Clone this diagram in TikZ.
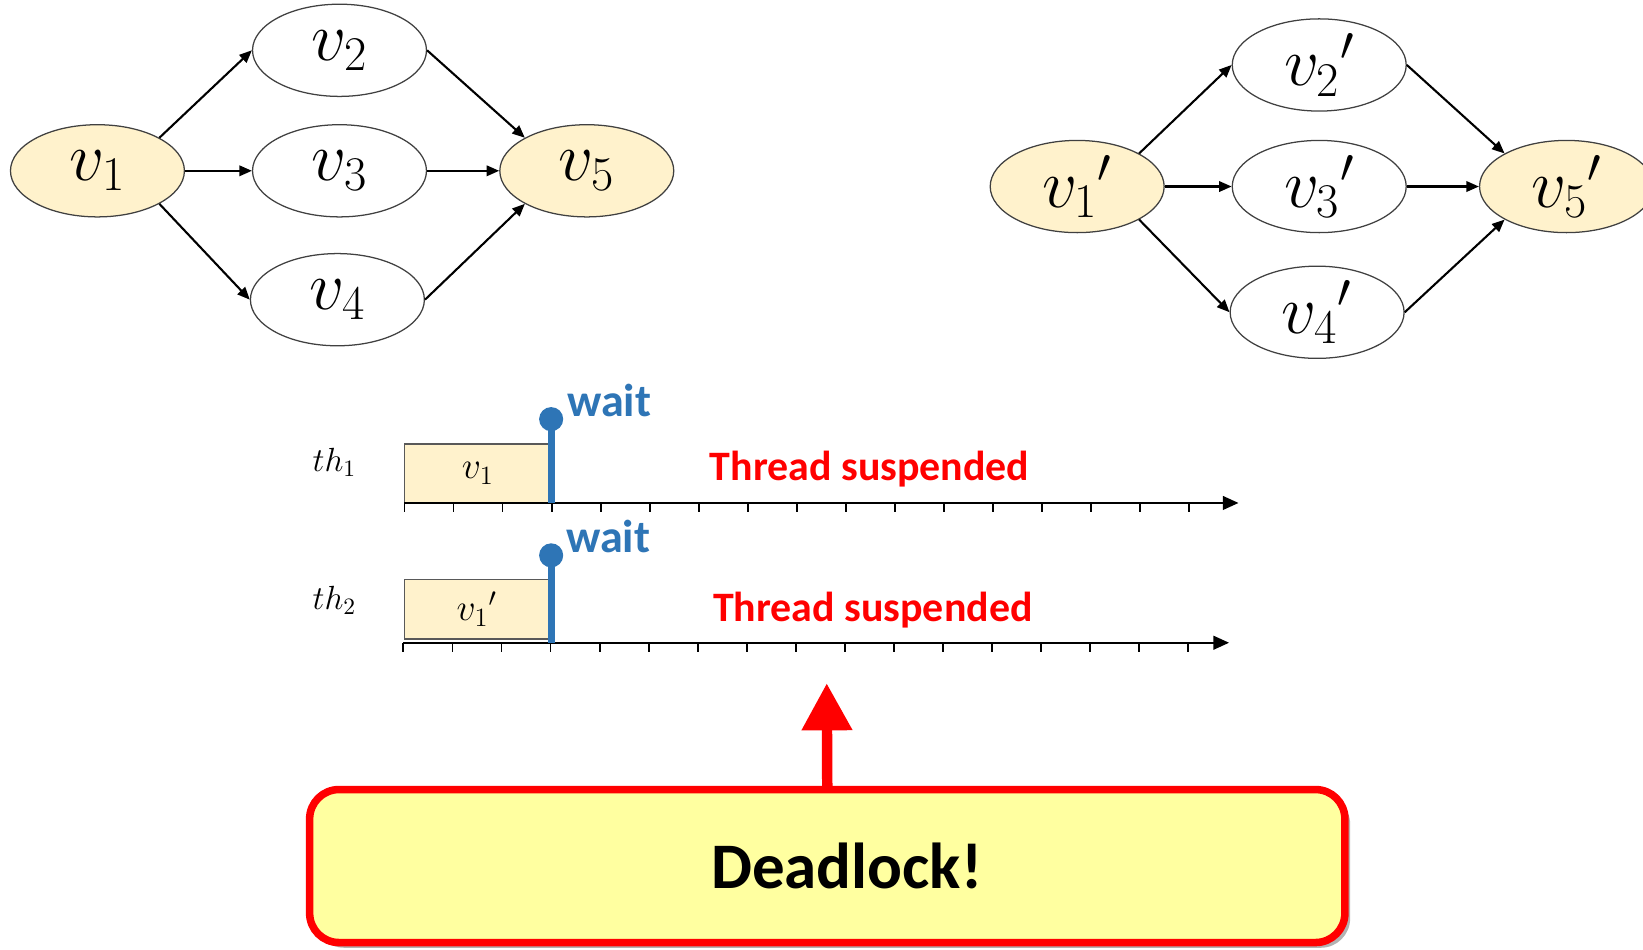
\RequirePackage{fix-cm}
\documentclass[tikz,border=0pt]{standalone}
\usepackage{fontspec}
\newfontfamily\carlito{Carlito}
\usetikzlibrary{shapes.geometric,arrows.meta,shadows}
\definecolor{cream}{HTML}{FFF2CC}
\definecolor{waitblue}{HTML}{2E75B6}
\definecolor{alertred}{HTML}{FF0000}
\definecolor{noteyellow}{HTML}{FFFFA0}
\definecolor{outline}{HTML}{404040}
\begin{document}
\begin{tikzpicture}[x=0.5pt,y=-0.5pt,
  vert/.style={ellipse, draw=outline, line width=0.6pt, minimum width=83pt,
    minimum height=44pt, inner sep=0pt, font=\fontsize{33}{36}\selectfont},
  src/.style={vert, fill=cream},
  dep/.style={-{Triangle[length=6pt,width=5pt]}, line width=1pt},
  taskbox/.style={draw=black!65, line width=0.8pt, fill=cream, inner sep=0pt,
    font=\fontsize{18}{20}\selectfont},
  axis/.style={line width=1.1pt, -{Triangle[length=7.5pt,width=6.5pt]}},
  tickmark/.style={line width=0.9pt},
  waitstem/.style={draw=waitblue, line width=3.3pt},
  waitdot/.style={circle, fill=waitblue, minimum size=11.5pt, inner sep=0pt},
  waitlabel/.style={text=waitblue, font=\carlito\bfseries\fontsize{22}{24}\selectfont,
    anchor=base west, inner sep=0pt},
  suspended/.style={text=alertred, font=\carlito\bfseries\fontsize{20}{24}\selectfont,
    anchor=base, inner sep=0pt},
  thread/.style={font=\fontsize{16}{18}\selectfont, anchor=base west, inner sep=0pt},
  alarmbox/.style={draw=alertred, line width=3.6pt, fill=noteyellow, rounded corners=14pt,
    minimum width=494pt, minimum height=73pt,
    drop shadow={shadow xshift=2.5pt, shadow yshift=-2.5pt, fill=black, opacity=0.3}},
]
\clip (0,0) rectangle (1568,906);

% first task graph
\node[src]  (a1) at (93,163)  {$v_1$};
\node[vert] (a2) at (324,48)  {$v_2$};
\node[vert] (a3) at (324,163) {$v_3$};
\node[vert] (a4) at (322,286) {$v_4$};
\node[src]  (a5) at (560,163) {$v_5$};
\draw[dep] (a1.north east) -- (a2.west);
\draw[dep] (a1.east) -- (a3.west);
\draw[dep] (a1.south east) -- (a4.west);
\draw[dep] (a2.east) -- (a5.north west);
\draw[dep] (a3.east) -- (a5.west);
\draw[dep] (a4.east) -- (a5.south west);

% second task graph
\node[src]  (b1) at (1028,178) {${v_1}'$};
\node[vert] (b2) at (1259,62)  {${v_2}'$};
\node[vert] (b3) at (1259,178) {${v_3}'$};
\node[vert] (b4) at (1257,298) {${v_4}'$};
\node[src]  (b5) at (1495,178) {${v_5}'$};
\draw[dep] (b1.north east) -- (b2.west);
\draw[dep] (b1.east) -- (b3.west);
\draw[dep] (b1.south east) -- (b4.west);
\draw[dep] (b2.east) -- (b5.north west);
\draw[dep] (b3.east) -- (b5.west);
\draw[dep] (b4.east) -- (b5.south west);

% thread 1 timeline
\node[thread] (th1) at (298,450) {$th_1$};
\node[taskbox, minimum width=70pt, minimum height=28pt] (t1) at (456,452) {$v_1$};
\coordinate (x1s) at (386,480);
\coordinate (x1e) at (1182,480);
\draw[axis] (x1s) -- (x1e);
\foreach \k in {0,...,16} \draw[tickmark] ({386+46.8*\k},480) -- ++(0,8.5);
\node[waitdot] (w1) at (526,400) {};
\coordinate (w1b) at (526,480);
\draw[waitstem] (w1.center) -- (w1b);
\node[waitlabel] (wl1) at (541,397.5) {wait};
\node[suspended] (s1) at (830,458.5) {Thread suspended};

% thread 2 timeline
\node[thread] (th2) at (298,581.5) {$th_2$};
\node[taskbox, minimum width=69pt, minimum height=28.5pt] (t2) at (455,581.5) {${v_1}'$};
\coordinate (x2s) at (385,613.4);
\coordinate (x2e) at (1173,613.4);
\draw[axis] (x2s) -- (x2e);
\foreach \k in {0,...,16} \draw[tickmark] ({385+46.8*\k},613.4) -- ++(0,8.5);
\node[waitdot] (w2) at (526,530) {};
\coordinate (w2b) at (526,613.4);
\draw[waitstem] (w2.center) -- (w2b);
\node[waitlabel] (wl2) at (540,527.5) {wait};
\node[suspended] (s2) at (833,593) {Thread suspended};

% deadlock callout
\node[alarmbox] (dl) at (789.5,826.5) {};
\node[font=\carlito\bfseries\fontsize{31}{36}\selectfont, anchor=base, inner sep=0pt]
  (dtext) at (808,848) {Deadlock!};
\coordinate (alarm) at (789,652);
\draw[alertred, line width=5pt, -{Triangle[length=22.5pt,width=23pt]}] (dl.north) -- (alarm);
\end{tikzpicture}
\end{document}
